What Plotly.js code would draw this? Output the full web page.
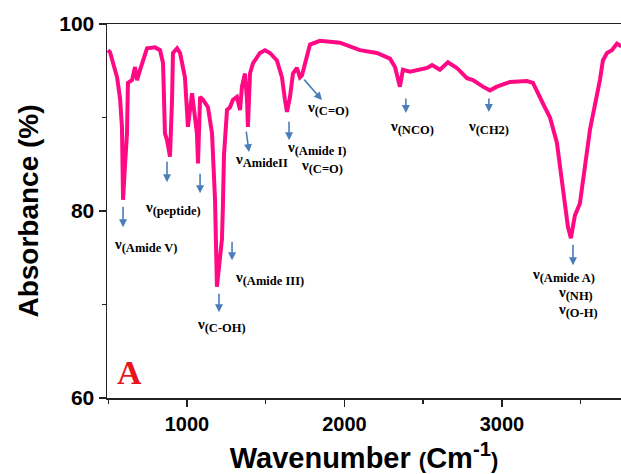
<!DOCTYPE html>
<html>
<head>
<meta charset="utf-8">
<script src="https://cdn.plot.ly/plotly-3.0.1.min.js"></script>
<style>html,body{margin:0;padding:0;background:#fff;}#chart{width:621px;height:474px;}</style>
</head>
<body>
<div id="chart"></div>
<script>
// FTIR spectrum
var wavenumber = [498, 511, 556, 575, 587, 594, 605, 619, 625, 651, 670, 683, 702, 746, 797, 829, 848, 860, 873, 892, 905, 911, 937, 956, 987, 1000, 1006, 1032, 1038, 1063, 1070, 1083, 1102, 1114, 1133, 1159, 1178, 1190, 1205, 1222, 1228, 1235, 1254, 1273, 1292, 1317, 1337, 1349, 1368, 1381, 1387, 1400, 1419, 1463, 1495, 1527, 1571, 1603, 1622, 1635, 1654, 1673, 1698, 1717, 1730, 1762, 1781, 1844, 1971, 2098, 2206, 2289, 2321, 2352, 2371, 2416, 2524, 2556, 2606, 2657, 2714, 2778, 2816, 2879, 2924, 2968, 3051, 3159, 3197, 3260, 3305, 3349, 3387, 3419, 3438, 3463, 3495, 3559, 3622, 3641, 3667, 3698, 3730, 3749, 3756];
var absorbance = [97.2, 97.0, 94.3, 92.0, 89.0, 81.2, 84.5, 88.3, 93.7, 94.0, 95.4, 94.0, 95.1, 97.4, 97.5, 97.2, 95.8, 88.3, 87.6, 85.8, 91.9, 96.9, 97.4, 96.9, 94.3, 90.8, 89.0, 92.6, 91.9, 88.3, 85.1, 92.2, 91.9, 91.5, 91.1, 88.3, 81.2, 71.9, 74.5, 77.0, 80.5, 86.0, 90.8, 91.1, 91.9, 92.2, 90.8, 93.3, 94.7, 91.9, 89.0, 94.7, 95.8, 96.9, 97.2, 96.9, 96.1, 94.3, 91.9, 90.6, 92.2, 94.7, 95.3, 94.3, 94.5, 96.5, 97.8, 98.2, 98.0, 97.2, 96.9, 96.3, 95.4, 93.3, 95.1, 94.9, 95.3, 95.6, 95.1, 95.9, 95.3, 94.2, 94.0, 93.3, 92.9, 93.3, 93.8, 93.9, 93.7, 91.5, 90.0, 87.3, 82.5, 78.3, 77.1, 79.5, 80.8, 88.7, 94.0, 96.1, 96.9, 97.2, 97.9, 97.7, 97.8];

var xTickVals = [1000, 2000, 3000];
var xTickText = ["1000", "2000", "3000"];
var yTickVals = [60, 80, 100];
var yTickText = ["60", "80", "100"];

// band labels: symbol + subscript, and position
var bandSubs = ["(Amide V)", "(peptide)", "(C-OH)", "(Amide III)", "AmideII", "(Amide I)", "(C=O)", "(C=O)", "(NCO)", "(CH2)", "(Amide A)", "(NH)", "(O-H)"];
var labelX = [524, 721, 1051, 1292, 1292, 1622, 1711, 1749, 2276, 2771, 3178, 3343, 3343];
var labelY = [76.34, 80.3, 67.77, 72.8, 85.44, 86.72, 84.8, 91.0, 88.97, 88.97, 73.13, 71.2, 69.38];

// arrows: head position and tail offset (px)
var arrowX = [594, 873, 1083, 1203, 1286, 1394, 1648, 1857, 2390, 2917, 3451];
var arrowY = [78.27, 83.08, 81.91, 69.16, 74.73, 86.3, 87.58, 91.86, 90.47, 90.58, 74.2];
var arrowAX = [0, 0, 0, 0, 0, -3, 0, -19, 0, 0, 0];
var arrowAY = [-22, -22, -21, -20, -20, -22, -20, -22, -16, -15, -22];

var annotations = [];
for (var i = 0; i < bandSubs.length; i++) {
  annotations.push({
    x: labelX[i], y: labelY[i], xref: 'x', yref: 'y',
    text: '<b>ν<sub><span style="font-size:12.5px">' + bandSubs[i] + '</span></sub></b>', showarrow: false,
    xanchor: 'left', yanchor: 'middle',
    font: {family: 'Liberation Serif, Times New Roman, serif', size: 15, color: '#000'}
  });
}
for (var j = 0; j < arrowX.length; j++) {
  annotations.push({
    x: arrowX[j], y: arrowY[j], xref: 'x', yref: 'y', text: '',
    showarrow: true, ax: arrowAX[j], ay: arrowAY[j],
    arrowhead: 2, arrowsize: 1, arrowwidth: 1.6, arrowcolor: '#4a7ebb'
  });
}
annotations.push({
  x: 543, y: 62.74, xref: 'x', yref: 'y', text: '<b>A</b>', showarrow: false,
  xanchor: 'left', yanchor: 'middle',
  font: {family: 'Liberation Serif, Times New Roman, serif', size: 34, color: '#e8141c'}
});

var trace = {
  x: wavenumber, y: absorbance, type: 'scatter', mode: 'lines',
  line: {color: '#ff0a84', width: 4, shape: 'linear'},
  hoverinfo: 'skip'
};

var layout = {
  width: 621, height: 474,
  margin: {l: 107, r: 0, t: 24, b: 76},
  paper_bgcolor: '#fff', plot_bgcolor: '#fff',
  showlegend: false,
  xaxis: {
    range: [492, 3756], showgrid: false, zeroline: false,
    showline: true, mirror: true, linecolor: '#222', linewidth: 1.5,
    tickmode: 'array', tickvals: xTickVals, ticktext: xTickText,
    ticks: 'outside', ticklen: 7, tickwidth: 1.5, tickcolor: '#222',
    minor: {dtick: 500, tick0: 0, ticks: 'outside', ticklen: 4, tickwidth: 1.5, tickcolor: '#222'},
    tickfont: {family: 'Liberation Sans, Arial, sans-serif', size: 20, color: '#000', weight: 700},
    title: {text: 'Wavenumber <span style="font-size:22px">(</span>Cm<sup>-1</sup><span style="font-size:22px">)</span>', standoff: 14,
      font: {family: 'Liberation Sans, Arial, sans-serif', size: 29, color: '#000', weight: 700}}
  },
  yaxis: {
    range: [60, 100], showgrid: false, zeroline: false,
    showline: true, linecolor: '#222', linewidth: 1.5,
    tickmode: 'array', tickvals: yTickVals, ticktext: yTickText,
    ticks: 'outside', ticklen: 7, tickwidth: 1.5, tickcolor: '#222',
    minor: {dtick: 10, tick0: 0, ticks: 'outside', ticklen: 4, tickwidth: 1.5, tickcolor: '#222'},
    tickfont: {family: 'Liberation Sans, Arial, sans-serif', size: 21, color: '#000', weight: 700},
    title: {text: 'Absorbance (%)', standoff: 12,
      font: {family: 'Liberation Sans, Arial, sans-serif', size: 28, color: '#000', weight: 700}}
  },
  annotations: annotations
};

Plotly.newPlot('chart', [trace], layout, {displayModeBar: false, staticPlot: true});
</script>
</body>
</html>
